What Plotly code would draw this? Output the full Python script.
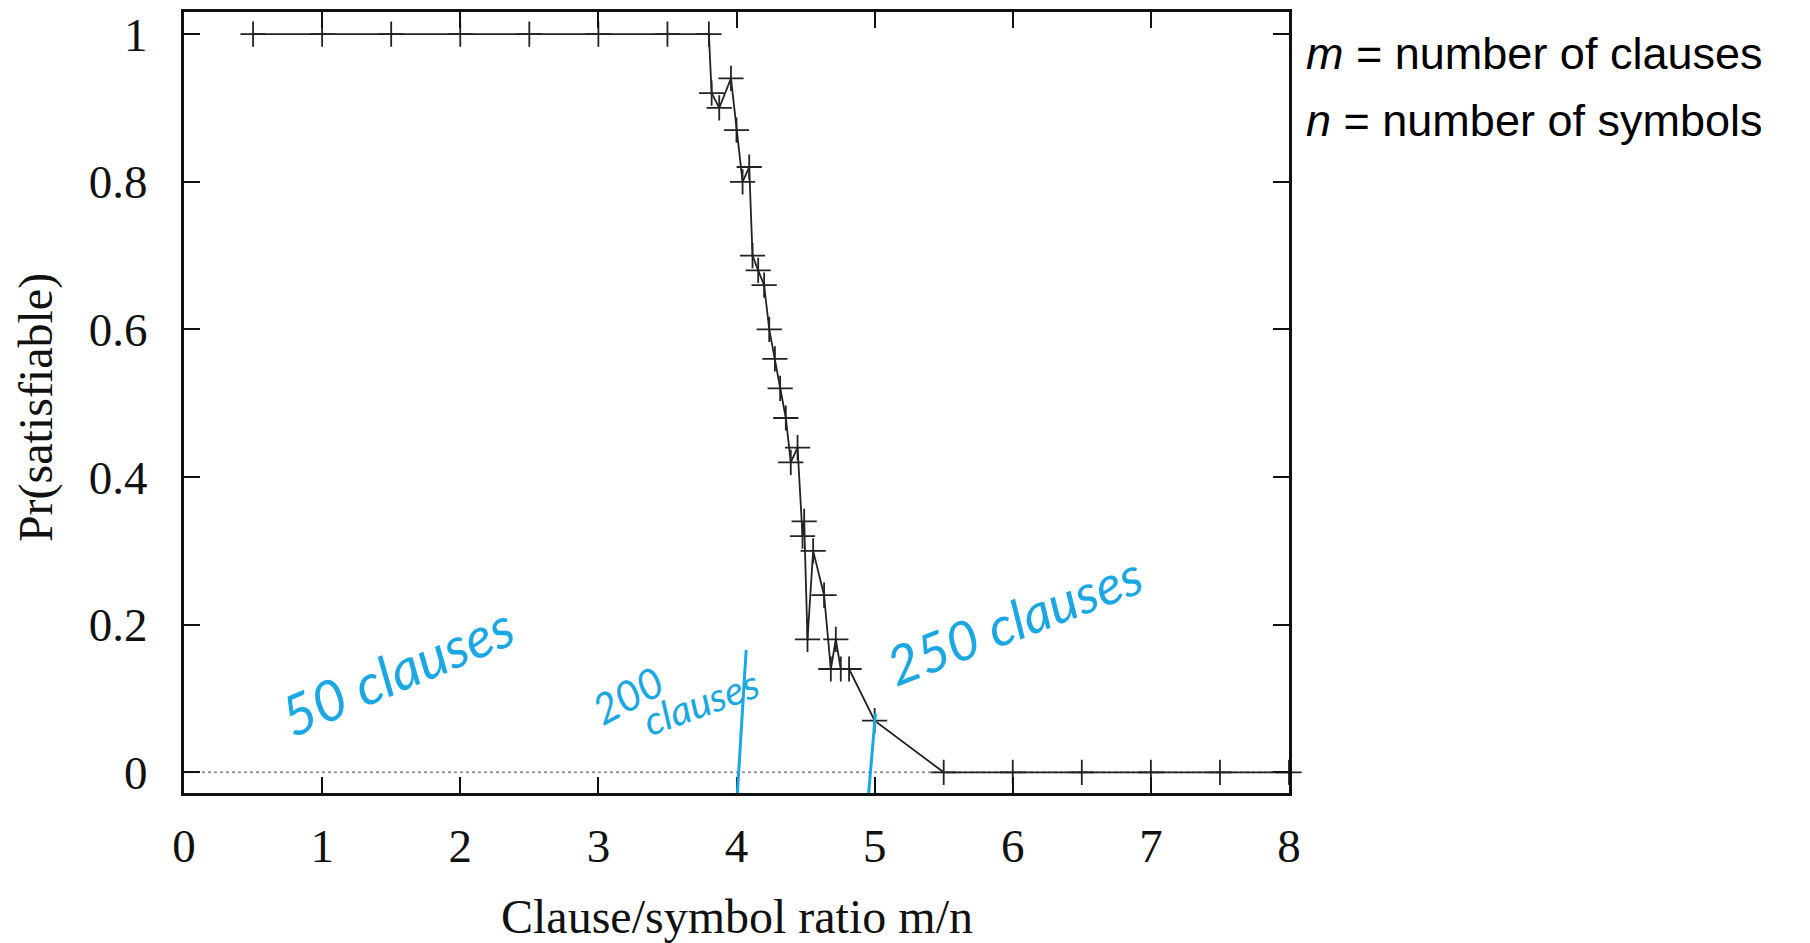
import plotly.graph_objects as go

# ---- data ----
ratio = [0.5, 1.0, 1.5, 2.0, 2.5, 3.0, 3.5, 3.8, 3.82, 3.875, 3.96, 4.0, 4.044, 4.092,
         4.116, 4.157, 4.2, 4.237, 4.278, 4.316, 4.357, 4.393, 4.442, 4.478, 4.49,
         4.514, 4.555, 4.634, 4.683, 4.719, 4.755, 4.815, 5.0, 5.5, 6.0, 6.5, 7.0, 7.5, 8.0]
pr_sat = [1, 1, 1, 1, 1, 1, 1, 1, 0.92, 0.90, 0.94, 0.87, 0.80, 0.82,
          0.70, 0.68, 0.66, 0.60, 0.56, 0.52, 0.48, 0.42, 0.44, 0.32, 0.34,
          0.18, 0.30, 0.24, 0.14, 0.18, 0.14, 0.14, 0.07, 0, 0, 0, 0, 0, 0]

x_ticks = [0, 1, 2, 3, 4, 5, 6, 7, 8]
y_ticks = [0, 0.2, 0.4, 0.6, 0.8, 1]
y_tick_labels = ["0", "0.2", "0.4", "0.6", "0.8", "1"]

# handwritten notes: text, x, y, angle, size
notes_text = ["50 clauses", "200", "clauses", "250 clauses"]
notes_x = [1.54, 3.21, 3.74, 6.016]
notes_y = [0.138, 0.105, 0.095, 0.207]
notes_angle = [-23, -28, -20, -21]
notes_size = [56, 42, 40, 54]

# handwritten marker strokes (x0, y0, x1, y1)
stroke_x0 = [4.07, 5.006]
stroke_y0 = [0.166, 0.08]
stroke_x1 = [4.006, 4.956]
stroke_y1 = [-0.03, -0.03]

BLUE = "#1AA7E3"
SERIF = "Liberation Serif"

fig = go.Figure()
fig.add_trace(go.Scatter(
    x=ratio, y=pr_sat, mode="lines+markers",
    line=dict(color="#222222", width=1.8),
    marker=dict(symbol="cross-thin", size=18, line=dict(color="#222222", width=1.8)),
    cliponaxis=False, showlegend=False,
))

shapes = [dict(type="line", xref="x", yref="y", x0=0, x1=8, y0=0, y1=0,
               line=dict(color="#9a9a9a", width=2, dash="dot"), layer="below")]
for a, b, c, d in zip(stroke_x0, stroke_y0, stroke_x1, stroke_y1):
    shapes.append(dict(type="line", xref="x", yref="y", x0=a, y0=b, x1=c, y1=d,
                       line=dict(color=BLUE, width=3)))

annotations = []
for t, xx, yy, ang, sz in zip(notes_text, notes_x, notes_y, notes_angle, notes_size):
    annotations.append(dict(text=t, x=xx, y=yy, xref="x", yref="y", showarrow=False,
                            textangle=ang, font=dict(family="Lato", size=sz, color=BLUE,
                                                     style="italic")))
annotations += [
    dict(text="Pr(satisfiable)", xref="paper", yref="paper", x=-0.134, y=0.494,
         textangle=-90, showarrow=False, xanchor="center", yanchor="middle",
         font=dict(family=SERIF, size=48, color="#111")),
    dict(text="Clause/symbol ratio m/n", xref="paper", yref="paper", x=0.5, y=-0.158,
         showarrow=False, xanchor="center", yanchor="middle",
         font=dict(family=SERIF, size=48, color="#111")),
    dict(text="<i>m</i> = number of clauses", xref="paper", yref="paper", x=1.0135, y=0.947,
         showarrow=False, xanchor="left", yanchor="middle",
         font=dict(family="Liberation Sans", size=45, color="#000")),
    dict(text="<i>n</i> = number of symbols", xref="paper", yref="paper", x=1.0135, y=0.8605,
         showarrow=False, xanchor="left", yanchor="middle",
         font=dict(family="Liberation Sans", size=45, color="#000")),
]

axis_common = dict(showline=True, linecolor="#111", linewidth=3, mirror="ticks",
                   ticks="inside", ticklen=16, tickwidth=2, tickcolor="#111",
                   showgrid=False, zeroline=False,
                   tickfont=dict(family=SERIF, size=47, color="#111"))

fig.update_layout(
    width=1802, height=935,
    margin=dict(l=176, r=521, t=1, b=150),
    plot_bgcolor="white", paper_bgcolor="white",
    xaxis=dict(range=[0, 8], tickvals=x_ticks, ticklabelstandoff=10, **axis_common),
    yaxis=dict(range=[-0.028, 1.03], tickvals=y_ticks, ticktext=y_tick_labels,
               ticklabelstandoff=24, **axis_common),
    shapes=shapes, annotations=annotations,
)

fig.write_html("out.html")
